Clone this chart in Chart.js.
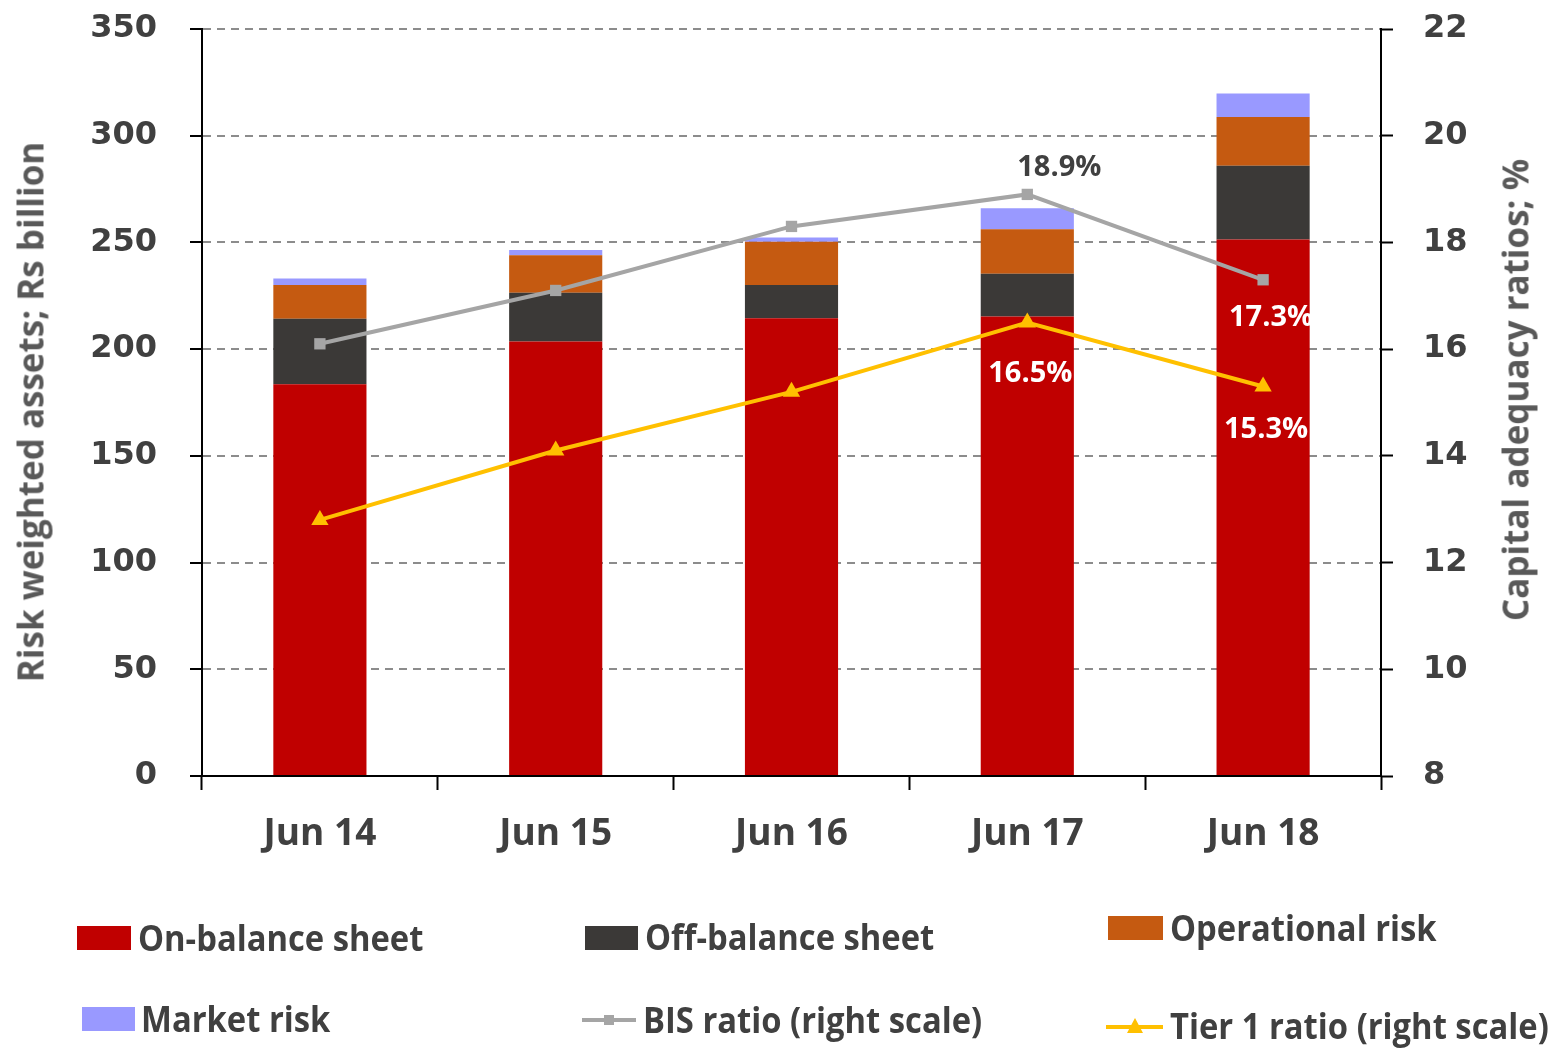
<!DOCTYPE html>
<html>
<head>
<meta charset="utf-8">
<title>Risk weighted assets and capital adequacy</title>
<script src="https://cdn.jsdelivr.net/npm/chart.js@4.4.1/dist/chart.umd.min.js"></script>
<style>
  body { margin: 0; background: #fff; }
  #wrap { position: relative; width: 1548px; height: 1049px; overflow: hidden; }
  #chart { position: absolute; left: 0; top: 0; }
  .axis-title { position: absolute; font-family: 'Open Sans', sans-serif; font-weight: 700; font-size: 35px; color: #595959; white-space: nowrap; line-height: 1; }
  .lg-text { position: absolute; font-family: 'Open Sans', sans-serif; font-weight: 700; font-size: 36px; line-height: 36px; color: #404040; white-space: nowrap; transform-origin: left center; transform: scaleX(0.91); }
  .lg-box { position: absolute; }
</style>
</head>
<body>
<div id="wrap">
  <canvas id="chart" width="1548" height="1049"></canvas>
  <div class="axis-title" id="title-left">Risk weighted assets; Rs billion</div>
  <div class="axis-title" id="title-right">Capital adequacy ratios; %</div>
  <div id="legend"></div>
</div>
<script>
/* data */
const categories = ['Jun 14', 'Jun 15', 'Jun 16', 'Jun 17', 'Jun 18'];
const onBalance = [183.6, 203.6, 214.5, 215.3, 251.4];
const offBalance = [30.6, 22.8, 15.6, 20.0, 34.5];
const operational = [15.8, 17.6, 20.2, 20.9, 22.9];
const marketRisk = [3.1, 2.5, 2.0, 9.8, 11.0];
const bisRatio = [16.1, 17.1, 18.3, 18.9, 17.3];
const tier1Ratio = [12.8, 14.1, 15.2, 16.5, 15.3];
const leftTicks = [0, 50, 100, 150, 200, 250, 300, 350];
const rightTicks = [8, 10, 12, 14, 16, 18, 20, 22];

const COLORS = {
  on: '#C00000', off: '#3B3937', op: '#C55A11', market: '#9999FF',
  bis: '#A5A5A5', tier1: '#FFC000'
};
const TXT = '#404040';

// which ratio points get a value label, and where it sits relative to the point
const pointLabels = [
  { ds: 4, i: 3, dx: 32, dy: -27, color: TXT },
  { ds: 4, i: 4, dx: 8, dy: 38, color: '#fff' },
  { ds: 5, i: 3, dx: 3, dy: 51, color: '#fff' },
  { ds: 5, i: 4, dx: 3, dy: 43, color: '#fff' }
];

const valueLabelPlugin = {
  id: 'valueLabels',
  afterDatasetsDraw(chart) {
    const ctx = chart.ctx;
    ctx.save();
    ctx.font = 'bold 29px "Open Sans"';
    ctx.textAlign = 'center';
    ctx.textBaseline = 'middle';
    pointLabels.forEach(l => {
      const pt = chart.getDatasetMeta(l.ds).data[l.i];
      const v = chart.data.datasets[l.ds].data[l.i];
      ctx.fillStyle = l.color;
      ctx.fillText(v.toFixed(1) + '%', pt.x + l.dx, pt.y + l.dy);
    });
    ctx.restore();
  }
};

const tickFont = { family: 'DejaVu Sans', weight: 'bold', size: 32 };

// fixed axis widths, and no extra room for the end labels
function fitY(width) {
  return s => { s.width = width; s.paddingTop = 0; s.paddingBottom = 0; };
}

const chart = new Chart(document.getElementById('chart'), {
  type: 'bar',
  data: {
    labels: categories,
    datasets: [
      { label: 'On-balance sheet', data: onBalance, backgroundColor: COLORS.on, order: 2 },
      { label: 'Off-balance sheet', data: offBalance, backgroundColor: COLORS.off, order: 2 },
      { label: 'Operational risk', data: operational, backgroundColor: COLORS.op, order: 2 },
      { label: 'Market risk', data: marketRisk, backgroundColor: COLORS.market, order: 2 },
      { type: 'line', label: 'BIS ratio (right scale)', data: bisRatio, yAxisID: 'y1', order: 0,
        borderColor: COLORS.bis, backgroundColor: COLORS.bis, borderWidth: 4,
        pointStyle: 'rect', pointRadius: 8, pointBorderWidth: 0 },
      { type: 'line', label: 'Tier 1 ratio (right scale)', data: tier1Ratio, yAxisID: 'y1', order: 0,
        borderColor: COLORS.tier1, backgroundColor: COLORS.tier1, borderWidth: 4,
        pointStyle: 'triangle', pointRadius: 10, pointBorderWidth: 0 }
    ]
  },
  options: {
    responsive: false,
    animation: false,
    devicePixelRatio: 1,
    layout: { padding: { top: 29, left: 0, right: 0, bottom: 0 } },
    datasets: { bar: { barPercentage: 0.395, categoryPercentage: 1 } },
    plugins: { legend: { display: false }, tooltip: { enabled: false } },
    scales: {
      x: {
        stacked: true,
        grid: { drawOnChartArea: false, drawTicks: true, tickLength: 14, tickColor: '#000', tickWidth: 2 },
        border: { color: '#000', width: 2 },
        ticks: { font: { family: 'Open Sans', weight: 'bold', size: 37 }, color: TXT, padding: 22 },
        afterFit: s => { s.height = 273; }
      },
      y: {
        stacked: true,
        min: 0, max: 350,
        afterBuildTicks: s => { s.ticks = leftTicks.map(v => ({ value: v })); },
        grid: { color: '#8C8C8C', lineWidth: 2, tickLength: 12, tickColor: '#000', tickWidth: 2 },
        border: { color: '#000', width: 2, dash: [8, 6] },
        ticks: { font: tickFont, color: TXT, padding: 33 },
        afterFit: fitY(202)
      },
      y1: {
        position: 'right',
        min: 8, max: 22,
        afterBuildTicks: s => { s.ticks = rightTicks.map(v => ({ value: v })); },
        grid: { drawOnChartArea: false, tickLength: 12, tickColor: '#000', tickWidth: 2 },
        border: { color: '#000', width: 2 },
        ticks: { font: tickFont, color: TXT, padding: 30 },
        afterFit: fitY(167)
      }
    }
  },
  plugins: [valueLabelPlugin]
});

// axis titles, both read bottom to top
function placeTitle(id, cx, cy) {
  const el = document.getElementById(id);
  el.style.left = cx + 'px';
  el.style.top = cy + 'px';
  el.style.transform = 'translate(-50%, -50%) rotate(-90deg)';
}
placeTitle('title-left', 30, 412);
placeTitle('title-right', 1515, 390);

// legend laid out like the original (3 columns x 2 rows)
const legendSpots = [
  { box: [77, 926, 54, 24], text: [138, 939] },
  { box: [585, 926, 53, 24], text: [645, 938] },
  { box: [1108, 916, 55, 24], text: [1170, 929] },
  { box: [82, 1007, 53, 24], text: [141, 1020] },
  { line: [582, 636, 1020], mark: 'rect', text: [643, 1021] },
  { line: [1106, 1163, 1027], mark: 'tri', text: [1170, 1027] }
];
const legend = document.getElementById('legend');
chart.data.datasets.forEach((ds, k) => {
  const s = legendSpots[k];
  const col = ds.borderColor || ds.backgroundColor;
  if (s.box) {
    const b = document.createElement('div');
    b.className = 'lg-box';
    Object.assign(b.style, { left: s.box[0] + 'px', top: s.box[1] + 'px', width: s.box[2] + 'px', height: s.box[3] + 'px', background: col });
    legend.appendChild(b);
  } else {
    const [x1, x2, y] = s.line;
    const ln = document.createElement('div');
    ln.className = 'lg-box';
    Object.assign(ln.style, { left: x1 + 'px', top: (y - 2) + 'px', width: (x2 - x1) + 'px', height: '4px', background: col });
    legend.appendChild(ln);
    const m = document.createElement('div');
    m.className = 'lg-box';
    const cx = (x1 + x2) / 2;
    if (s.mark === 'rect') {
      Object.assign(m.style, { left: (cx - 5) + 'px', top: (y - 5) + 'px', width: '10px', height: '10px', background: col });
    } else {
      Object.assign(m.style, { left: (cx - 8) + 'px', top: (y - 9) + 'px', width: 0, height: 0,
        borderLeft: '8px solid transparent', borderRight: '8px solid transparent', borderBottom: '15px solid ' + col });
    }
    legend.appendChild(m);
  }
  const t = document.createElement('div');
  t.className = 'lg-text';
  t.textContent = ds.label;
  t.style.left = s.text[0] + 'px';
  t.style.top = (s.text[1] - 19) + 'px';
  legend.appendChild(t);
});
</script>
</body>
</html>
